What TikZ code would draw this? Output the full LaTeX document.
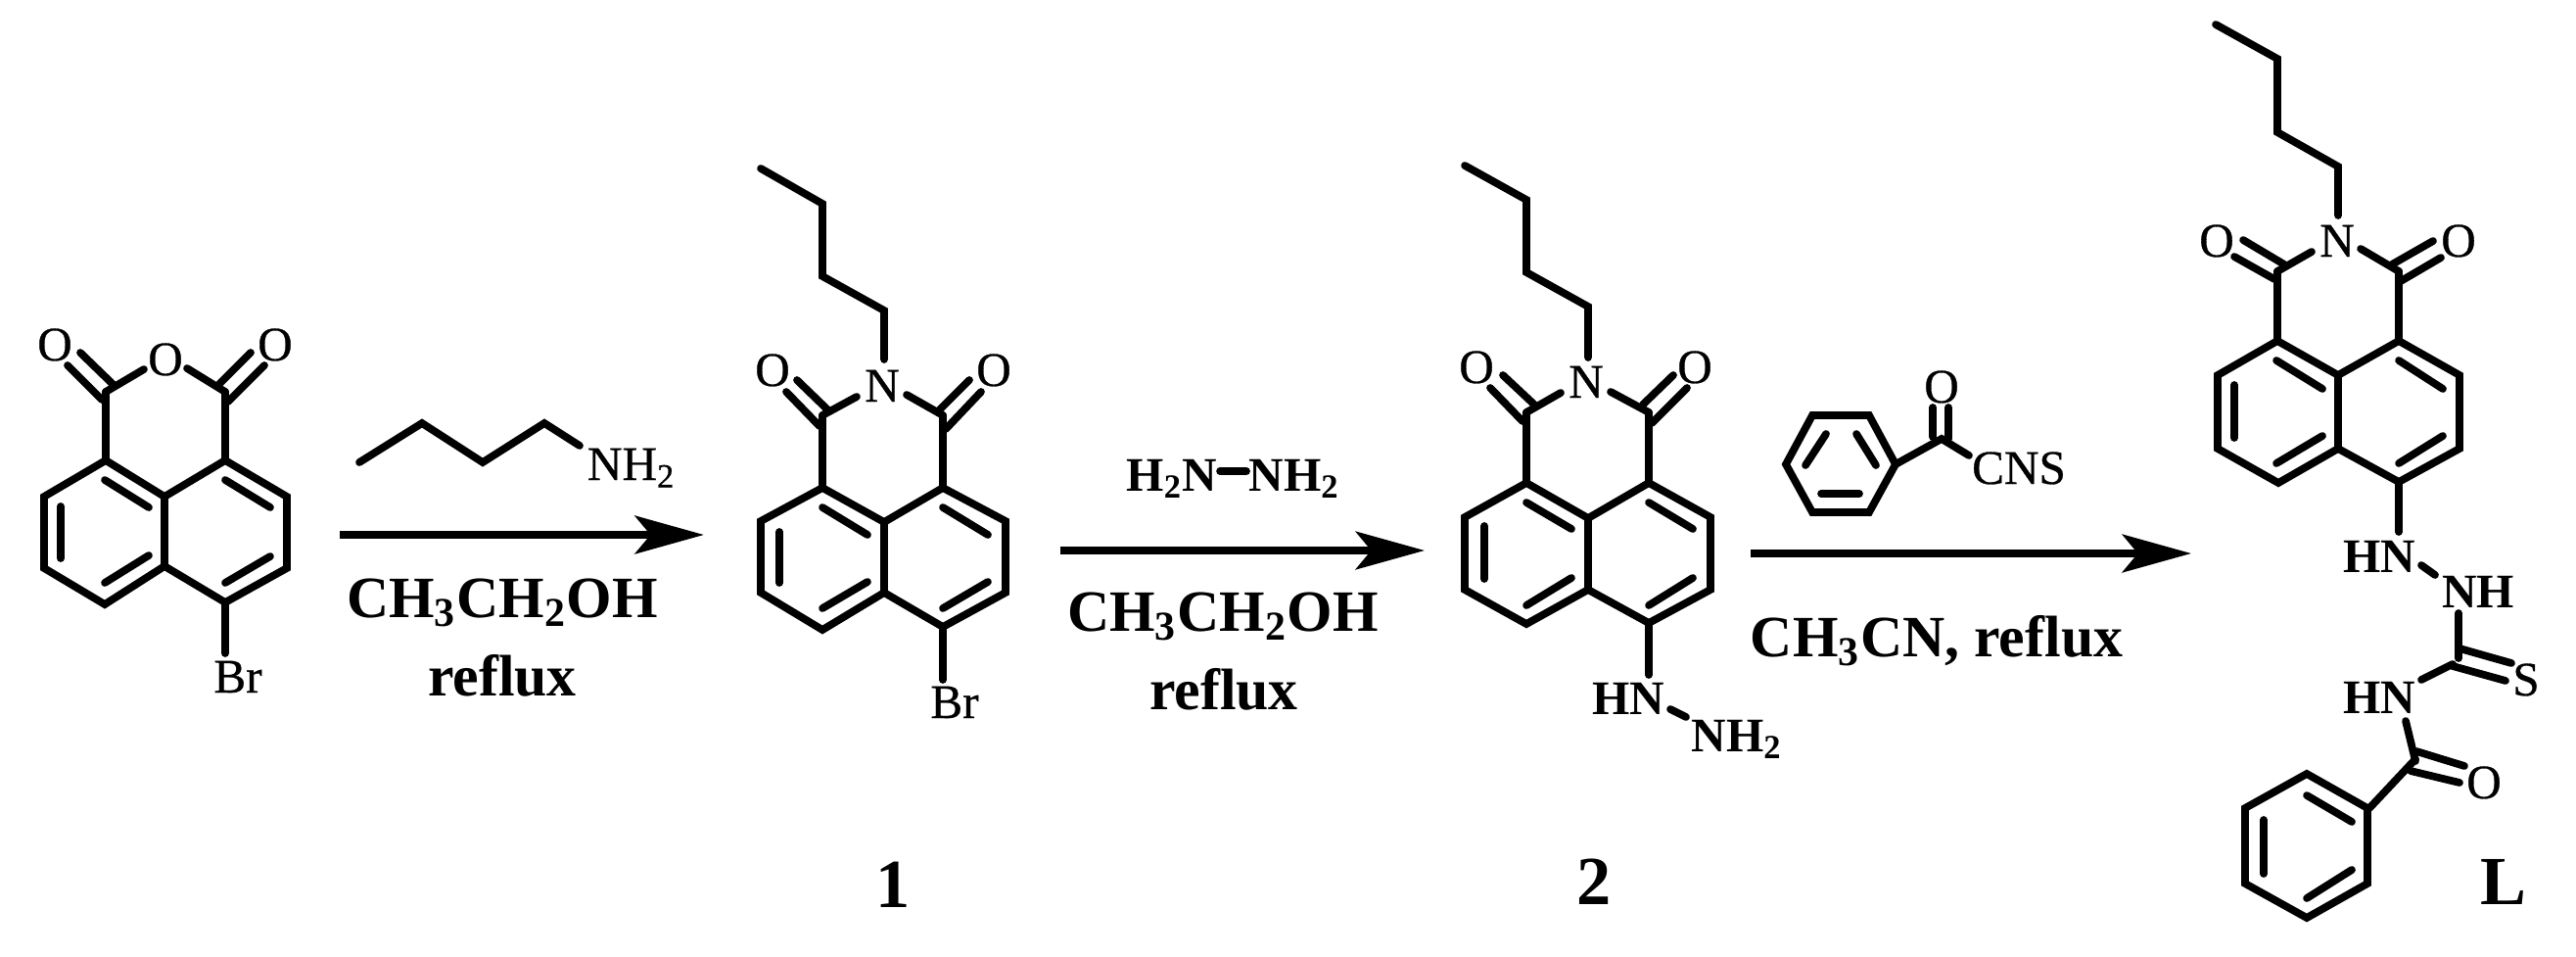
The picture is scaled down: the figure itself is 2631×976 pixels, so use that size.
\documentclass[tikz,border=0pt]{standalone}
\usepackage{fontspec}
\setmainfont{Liberation Serif}
\newfontfamily\heavyserif[FakeBold=0.6]{Liberation Serif}
\usetikzlibrary{arrows.meta}
\tikzset{
	bond/.style = {line width=2.2pt, line cap=round, line join=miter},
	rxn/.style = {line width=2.2pt, -{Stealth[length=20pt,width=11pt,inset=4.5pt]}},
	atom/.style = {anchor=base, inner sep=0pt, font=\fontsize{14}{14}\selectfont\heavyserif},
	atomb/.style = {anchor=base, inner sep=0pt, font=\fontsize{14}{14}\selectfont\bfseries},
	cond/.style = {anchor=base, inner sep=0pt, font=\fontsize{17}{17}\selectfont\bfseries},
	cmpd/.style = {anchor=base, inner sep=0pt, font=\fontsize{20}{20}\selectfont\bfseries}
}
\newcommand{\skeleton}[1]{
	\draw[bond] (#1ul) -- (#1tl) -- (#1ct) -- (#1tr) -- (#1ur) -- (#1lr) -- (#1rb) -- (#1cb) -- (#1bt) -- (#1ll) -- cycle;
	\draw[bond] (#1ct) -- (#1cb);
	\draw[bond] (#1tl) -- (#1cl);
	\draw[bond] (#1tr) -- (#1cr);
}
\begin{document}
\begin{tikzpicture}[x=0.01cm, y=-0.01cm]
	\useasboundingbox (0,0) rectangle (2631,976);

	% anhydride
	\coordinate (Acl) at (108,400); \coordinate (Acr) at (230,400);
	\coordinate (Atl) at (108,470); \coordinate (Atr) at (230,470);
	\coordinate (Act) at (168,507); \coordinate (Acb) at (168,578);
	\coordinate (Aul) at (45,507); \coordinate (All) at (45,580);
	\coordinate (Abt) at (107,617); \coordinate (Arb) at (230,615);
	\coordinate (Aur) at (293,507); \coordinate (Alr) at (293,580);
	\skeleton{A}
	\draw[bond] (62,517) -- (62,570);
	\draw[bond] (107,490) -- (152,518);
	\draw[bond] (107,595) -- (152,567);
	\draw[bond] (230,490) -- (276,518);
	\draw[bond] (230,595) -- (276,568);
	\draw[bond] (69,373) -- (104,408);
	\draw[bond] (82,360) -- (115,392);
	\draw[bond] (256,360) -- (224,392);
	\draw[bond] (270,373) -- (233,410);
	\draw[bond] (Acl) -- (147,377);
	\draw[bond] (191,376) -- (Acr);
	\draw[bond] (Arb) -- (230,667);
	\node[atom] (Aol) at (56,368) {O};
	\node[atom] (Aor) at (281,368) {O};
	\node[atom] (Aoc) at (169,383) {O};
	\node[atom] (Abr) at (243,707) {Br};

	% butylamine
	\node[atom] (amine) at (645,490) {NH\textsubscript{2}};
	\draw[bond] (367,472) -- (431,432) -- (493,472) -- (556,432) -- (592,455);

	\coordinate (ar1s) at (347,546); \coordinate (ar1e) at (719,546);
	\draw[rxn, line width=2.5pt] (ar1s) -- (ar1e);
	\node[cond] (sol1) at (513,630) {CH\textsubscript{3}CH\textsubscript{2}OH};
	\node[cond] (ref1) at (513,710) {reflux};

	% compound 1
	\coordinate (Bcl) at (840,424); \coordinate (Bcr) at (963,424);
	\coordinate (Btl) at (840,498); \coordinate (Btr) at (963,498);
	\coordinate (Bct) at (903,533); \coordinate (Bcb) at (903,605);
	\coordinate (Bul) at (777,532); \coordinate (Bll) at (777,605);
	\coordinate (Bbt) at (840,643); \coordinate (Brb) at (963,640);
	\coordinate (Bur) at (1027,532); \coordinate (Blr) at (1027,605);
	\skeleton{B}
	\draw[bond] (796,543) -- (796,595);
	\draw[bond] (840,518) -- (886,546);
	\draw[bond] (840,621) -- (886,594);
	\draw[bond] (963,518) -- (1009,546);
	\draw[bond] (963,621) -- (1009,594);
	\draw[bond] (803,400) -- (837,435);
	\draw[bond] (814,388) -- (846,419);
	\draw[bond] (990,388) -- (959,419);
	\draw[bond] (1002,400) -- (966,438);
	\draw[bond] (Bcl) -- (875,405);
	\draw[bond] (926,403) -- (Bcr);
	\draw[bond] (777,172) -- (840,208) -- (840,282) -- (903,317) -- (903,367);
	\draw[bond] (Brb) -- (963,694);
	\node[atom] (Bn) at (901,410) {N};
	\node[atom] (Bol) at (789,394) {O};
	\node[atom] (Bor) at (1015,394) {O};
	\node[atom] (Bbr) at (975,733) {Br};
	\node[cmpd] (one) at (912,926) {1};

	\coordinate (ar2s) at (1083,562); \coordinate (ar2e) at (1455,562);
	\draw[rxn, line width=2.1pt] (ar2s) -- (ar2e);
	\node[atomb] (hyd1) at (1197,501) {H\textsubscript{2}N};
	\node[atomb] (hyd2) at (1322,501) {NH\textsubscript{2}};
	\draw[bond] (1246,481) -- (1273,481);
	\node[cond] (sol2) at (1249,644) {CH\textsubscript{3}CH\textsubscript{2}OH};
	\node[cond] (ref2) at (1250,724) {reflux};

	% compound 2
	\coordinate (Ccl) at (1559,421); \coordinate (Ccr) at (1684,421);
	\coordinate (Ctl) at (1559,493); \coordinate (Ctr) at (1684,493);
	\coordinate (Cct) at (1622,529); \coordinate (Ccb) at (1622,602);
	\coordinate (Cul) at (1496,528); \coordinate (Cll) at (1496,602);
	\coordinate (Cbt) at (1559,637); \coordinate (Crb) at (1684,636);
	\coordinate (Cur) at (1747,528); \coordinate (Clr) at (1747,602);
	\skeleton{C}
	\draw[bond] (1516,537) -- (1516,591);
	\draw[bond] (1559,513) -- (1605,540);
	\draw[bond] (1559,618) -- (1605,590);
	\draw[bond] (1684,513) -- (1729,540);
	\draw[bond] (1684,618) -- (1729,590);
	\draw[bond] (1522,396) -- (1555,430);
	\draw[bond] (1535,383) -- (1567,413);
	\draw[bond] (1709,383) -- (1678,413);
	\draw[bond] (1723,396) -- (1687,432);
	\draw[bond] (Ccl) -- (1594,401);
	\draw[bond] (1645,400) -- (Ccr);
	\draw[bond] (1496,169) -- (1559,204) -- (1559,278) -- (1622,313) -- (1622,365);
	\draw[bond] (Crb) -- (1684,689);
	\draw[bond] (1706,724) -- (1722,732);
	\node[atom] (Cn) at (1620,406) {N};
	\node[atom] (Col) at (1508,391) {O};
	\node[atom] (Cor) at (1731,391) {O};
	\node[atomb] (Chn) at (1663,729) {HN};
	\node[atomb] (Cnh) at (1774,767) {NH\textsubscript{2}};
	\node[cmpd] (two) at (1628,923) {2};

	% benzoyl isothiocyanate
	\draw[bond] (1851,424) -- (1909,424) -- (1936,474) -- (1909,523) -- (1851,523) -- (1824,474) -- cycle;
	\draw[bond] (1865,443) -- (1844,475);
	\draw[bond] (1896,443) -- (1916,475);
	\draw[bond] (1860,504) -- (1899,504);
	\draw[bond] (1936,474) -- (1983,448) -- (2011,465);
	\draw[bond] (1974,446) -- (1974,416);
	\draw[bond] (1990,448) -- (1990,416);
	\node[atom] (Do) at (1983,411) {O};
	\node[atom] (Dcns) at (2062,494) {CNS};

	\coordinate (ar3s) at (1788,565); \coordinate (ar3e) at (2238,565);
	\draw[rxn] (ar3s) -- (ar3e);
	\node[cond] (sol3) at (1978,670) {CH\textsubscript{3}CN, reflux};

	% compound L
	\coordinate (Lcl) at (2326,277); \coordinate (Lcr) at (2450,277);
	\coordinate (Ltl) at (2326,348); \coordinate (Ltr) at (2450,348);
	\coordinate (Lct) at (2388,383); \coordinate (Lcb) at (2388,458);
	\coordinate (Lul) at (2265,383); \coordinate (Lll) at (2265,458);
	\coordinate (Lbt) at (2327,493); \coordinate (Lrb) at (2450,492);
	\coordinate (Lur) at (2512,383); \coordinate (Llr) at (2512,458);
	\skeleton{L}
	\draw[bond] (2282,393) -- (2282,447);
	\draw[bond] (2325,368) -- (2372,397);
	\draw[bond] (2325,473) -- (2372,445);
	\draw[bond] (2450,368) -- (2495,397);
	\draw[bond] (2450,473) -- (2495,445);
	\draw[bond] (2282,262) -- (2323,285);
	\draw[bond] (2291,245) -- (2333,270);
	\draw[bond] (2485,246) -- (2443,270);
	\draw[bond] (2493,263) -- (2452,287);
	\draw[bond] (Lcl) -- (2361,257);
	\draw[bond] (2411,254) -- (Lcr);
	\draw[bond] (2263,25) -- (2326,60) -- (2326,135) -- (2388,170) -- (2388,220);
	\draw[bond] (Lrb) -- (2450,543);
	\draw[bond] (2473,577) -- (2487,587);
	\draw[bond] (2511,626) -- (2511,672);
	\draw[bond] (2473,694) -- (2505,678);
	\draw[bond] (2512,662) -- (2565,677);
	\draw[bond] (2505,680) -- (2559,695);
	\draw[bond] (2457,736) -- (2467,777);
	\draw[bond] (2467,775) -- (2420,825);
	\draw[bond] (2468,767) -- (2517,782);
	\draw[bond] (2462,787) -- (2512,799);
	\draw[bond] (2356,790) -- (2418,825) -- (2418,902) -- (2356,937) -- (2293,902) -- (2293,825) -- cycle;
	\draw[bond] (2312,837) -- (2312,892);
	\draw[bond] (2356,812) -- (2402,839);
	\draw[bond] (2356,917) -- (2402,888);
	\node[atom] (Ln) at (2387,262) {N};
	\node[atom] (Lol) at (2264,262) {O};
	\node[atom] (Lor) at (2511,262) {O};
	\node[atomb] (Lhn) at (2430,584) {HN};
	\node[atomb] (Lnh) at (2531,620) {NH};
	\node[atom] (Ls) at (2580,710) {S};
	\node[atomb] (Lhm) at (2430,728) {HN};
	\node[atom] (Lo) at (2537,815) {O};
	\node[cmpd] (ell) at (2557,923) {L};
\end{tikzpicture}
\end{document}
